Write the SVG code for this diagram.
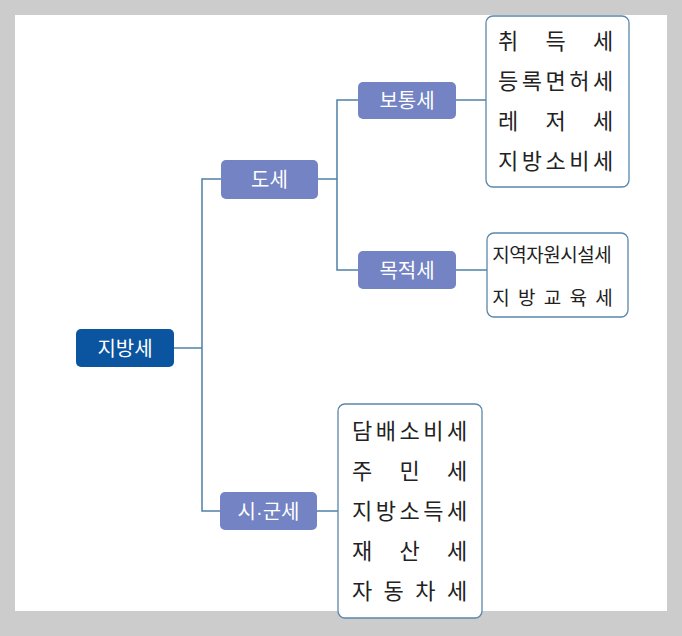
<svg xmlns="http://www.w3.org/2000/svg" width="682" height="636" viewBox="0 0 682 636">
<style>
.node text{font-family:"Noto Sans CJK KR","Noto Sans",sans-serif;fill:#fff;font-size:20px;text-anchor:middle}
.list rect{fill:#fff;stroke:#5a87aa;stroke-width:1.3}
.list text{font-family:"Noto Sans CJK KR","Noto Sans",sans-serif;fill:#222;font-size:22px;text-anchor:middle}
.list text.sm{font-size:19px}
.mid{fill:#7383c4}
.conn path{fill:none;stroke:#4d80a6;stroke-width:1.5}
</style>
<rect x="0" y="0" width="682" height="636" fill="#cccccc"/>
<rect x="15" y="15" width="652" height="596" fill="#ffffff"/>
<g class="conn" id="connectors">
<path d="M174 348 H202"/>
<path d="M221 179 H202 V511 H220"/>
<path d="M318 179 H337"/>
<path d="M358 100 H337 V270 H358"/>
<path d="M456 100 H486"/>
<path d="M456 270 H487"/>
<path d="M317 511 H338"/>
</g>
<g class="node" id="n-jibangse">
<rect x="76" y="329" width="98" height="38" rx="5" fill="#0b55a0"/>
<text x="125" y="355.5">지방세</text>
</g>
<g class="node" id="n-dose">
<rect x="221" y="160" width="97" height="39" rx="5" class="mid"/>
<text x="269.5" y="187">도세</text>
</g>
<g class="node" id="n-botongse">
<rect x="358" y="82" width="98" height="37" rx="5" class="mid"/>
<text x="407" y="108">보통세</text>
</g>
<g class="node" id="n-mokjeokse">
<rect x="358" y="251" width="98" height="38" rx="5" class="mid"/>
<text x="407" y="277.5">목적세</text>
</g>
<g class="node" id="n-sigunse">
<rect x="220" y="492" width="97" height="38" rx="5" class="mid"/>
<text x="268.5" y="518.5">시<tspan font-family="Liberation Sans, sans-serif">·</tspan>군세</text>
</g>
<g class="list" id="n-list1">
<rect x="486" y="16" width="143" height="171" rx="7"/>
<text x="508 555.5 603" y="49">취득세</text>
<text x="508 531.75 555.5 579.25 603" y="89">등록면허세</text>
<text x="508 555.5 603" y="129">레저세</text>
<text x="508 531.75 555.5 579.25 603" y="169">지방소비세</text>
</g>
<g class="list" id="n-list2">
<rect x="487" y="233" width="141" height="84" rx="7"/>
<text class="sm" x="501 518 535 552 569 586 603" y="262">지역자원시설세</text>
<text class="sm" x="501 526.75 552.5 578.25 604" y="304.5">지방교육세</text>
</g>
<g class="list" id="n-list3">
<rect x="338" y="404" width="144" height="214" rx="7"/>
<text x="362 385.75 409.5 433.25 457" y="439">담배소비세</text>
<text x="362 409.5 457" y="479">주민세</text>
<text x="362 385.75 409.5 433.25 457" y="519">지방소득세</text>
<text x="362 409.5 457" y="559">재산세</text>
<text x="362 393.7 425.3 457" y="599">자동차세</text>
</g>
</svg>
